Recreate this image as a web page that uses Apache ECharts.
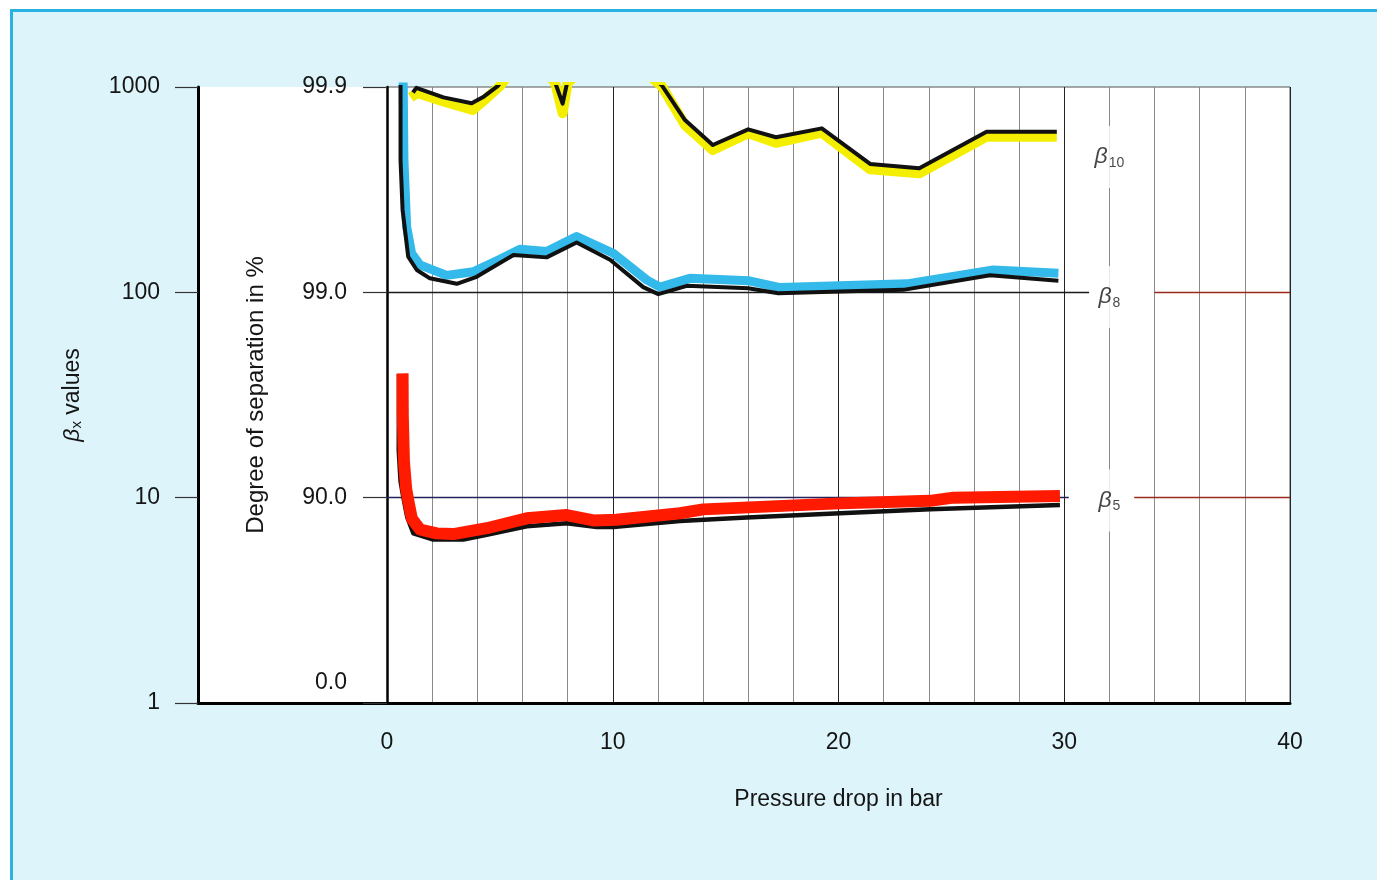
<!DOCTYPE html>
<html>
<head>
<meta charset="utf-8">
<script src="https://cdn.jsdelivr.net/npm/echarts@6/dist/echarts.min.js"></script>
<style>
  html, body { margin: 0; padding: 0; background: #ffffff; }
  #frame { position: absolute; left: 10px; top: 9px; width: 1400px; height: 900px;
           background: #ddf5fa; border-left: 3px solid #2ab2e2; border-top: 3px solid #2ab2e2; }
  #chart { position: absolute; left: 0; top: 0; width: 1377px; height: 880px; }
</style>
</head>
<body>
<div id="frame"></div>
<div id="chart"></div>
<script>
// ---- data (x = pressure drop in bar, y = beta value) ----
const beta10Yellow = [[1.05, 890], [1.35, 935], [2.5, 850], [3.8, 773], [4.4, 880], [5.0, 1010], [6.2, 1500], [7.45, 1050], [7.78, 745], [8.0, 1050], [10, 1600], [12.17, 1010], [13.2, 653], [14.43, 493], [16.0, 595], [17.23, 535], [19.26, 599], [21.4, 397], [23.58, 380], [26.56, 573], [29.67, 573]];
const beta10Black = [[1.15, 940], [1.3, 990], [2.5, 890], [3.75, 833], [4.3, 900], [4.9, 1010], [6.2, 1500], [7.45, 1050], [7.78, 830], [7.98, 1050], [10, 1600], [12.17, 1020], [13.2, 690], [14.43, 522], [16.0, 622], [17.23, 569], [19.26, 629], [21.4, 422], [23.58, 402], [26.56, 606], [29.67, 606]];
const beta8Blue = [[0.7, 1200], [0.72, 1000], [0.75, 440], [0.87, 209], [1.09, 155], [1.46, 136], [2.64, 121], [3.82, 126], [5.0, 145], [5.89, 162], [7.07, 158], [8.4, 187], [10.02, 155], [11.5, 115], [12.09, 106], [13.42, 117], [16.0, 114], [17.41, 105.5], [20.07, 107.6], [23.02, 110], [26.86, 128.5], [29.74, 124]];
const beta8Black = [[0.6, 1200], [0.6, 440], [0.69, 252], [0.94, 149], [1.32, 128.5], [1.9, 117], [3.09, 110], [3.97, 119], [5.6, 152], [7.07, 148], [8.4, 175], [9.88, 144], [11.35, 106], [12.02, 98], [13.28, 107.6], [16.0, 104.6], [17.33, 99], [20.07, 101], [22.87, 102.8], [26.71, 121], [29.74, 114]];
const beta5Red = [[0.69, 40.3], [0.7, 25], [0.75, 15], [0.85, 11], [0.94, 9.7], [1.1, 7.9], [1.46, 7.0], [2.2, 6.7], [2.94, 6.65], [4.42, 7.1], [6.19, 7.93], [7.96, 8.23], [9.14, 7.75], [10.17, 7.8], [12.98, 8.4], [14.01, 8.77], [20.07, 9.38], [24.05, 9.65], [25.09, 10.0], [29.81, 10.2]];
const beta5Black = [[0.53, 40], [0.52, 17], [0.6, 12], [0.72, 10.1], [0.9, 8], [1.17, 6.7], [2.05, 6.25], [3.38, 6.25], [4.42, 6.6], [6.19, 7.25], [7.96, 7.5], [9.29, 7.2], [10.02, 7.2], [12.98, 7.7], [15.93, 8.0], [20.07, 8.39], [24.05, 8.77], [29.81, 9.2]];

// reference lines [xStart, xEnd, y]
const refLinesLeft = [[0, 31.1, 100], [0, 30.2, 10]];
const refLinesRight = [[34.0, 40, 100], [33.1, 40, 10]];
// curve labels [x, y, subscript]
const curveLabels = [[32, 456, '10'], [32, 95, '8'], [32, 9.7, '5']];

const xTicks = [0, 10, 20, 30, 40];
const betaTicks = [1, 10, 100, 1000];

const FONT = '"Liberation Sans", Arial, Helvetica, sans-serif';
const TXT = '#151515';
const chart = echarts.init(document.getElementById('chart'), null, { renderer: 'canvas' });

function lineSeries(name, data, color, width, z) {
  return {
    name: name, type: 'line', data: data, xAxisIndex: 0, yAxisIndex: 0,
    showSymbol: false, symbol: 'none', clip: true, z: z, silent: true,
    lineStyle: { color: color, width: width, join: 'round', cap: 'butt' }
  };
}

function refSeries(name, segs, colors, z) {
  return {
    name: name, type: 'line', data: [], xAxisIndex: 0, yAxisIndex: 0, z: z, silent: true,
    markLine: {
      silent: true, symbol: 'none', animation: false, label: { show: false }, z: z,
      data: segs.map((s, i) => {
        const ls = { color: colors[i], width: 1.4, type: 'solid' };
        return [{ coord: [s[0], s[2]], lineStyle: ls }, { coord: [s[1], s[2]], lineStyle: ls }];
      })
    }
  };
}

const option = {
  backgroundColor: 'transparent',
  animation: false,
  textStyle: { fontFamily: FONT },
  grid: [
    { left: 387, right: 87, top: 87, bottom: 177, show: true, backgroundColor: '#ffffff', borderColor: '#555', borderWidth: 1 },
    { left: 198, width: 189, top: 87, bottom: 177, show: true, backgroundColor: '#ffffff', borderWidth: 0 }
  ],
  xAxis: [
    {
      gridIndex: 0, type: 'value', min: 0, max: 40, interval: 2,
      axisLine: { show: true, lineStyle: { color: '#000', width: 3 } },
      axisTick: { show: false },
      axisLabel: { show: true, margin: 28, fontSize: 23, color: TXT, fontFamily: FONT,
        formatter: v => xTicks.indexOf(v) >= 0 ? String(v) : '' },
      splitLine: { show: true, lineStyle: { color: ['#222', '#8a8a8a', '#8a8a8a', '#8a8a8a', '#8a8a8a'], width: 1 } },
      name: 'Pressure drop in bar', nameLocation: 'middle', nameGap: 85,
      nameTextStyle: { fontSize: 23, color: TXT, fontFamily: FONT }
    },
    {
      gridIndex: 1, type: 'value', min: 0, max: 1,
      axisLine: { show: true, lineStyle: { color: '#000', width: 3 } },
      axisTick: { show: false }, axisLabel: { show: false }, splitLine: { show: false }
    }
  ],
  yAxis: [
    {
      gridIndex: 0, type: 'log', logBase: 10, min: 1, max: 1000,
      axisLine: { show: true, onZero: false, lineStyle: { color: '#000', width: 2.5 } },
      axisTick: { show: true, length: 24, lineStyle: { color: '#333', width: 1.2 } },
      minorTick: { show: false }, splitLine: { show: false },
      axisLabel: { margin: 40, fontSize: 23, color: TXT, fontFamily: FONT,
        formatter: v => {
          const s = ((1 - 1 / v) * 100).toFixed(1);
          return Math.round(v) === 1 ? '{up|' + s + '}' : s;
        },
        rich: { up: { fontSize: 23, color: TXT, fontFamily: FONT, padding: [0, 0, 40, 0] } } },
      name: 'Degree of separation in %', nameLocation: 'middle', nameGap: 119,
      nameTextStyle: { fontSize: 24, color: TXT, fontFamily: FONT }
    },
    {
      gridIndex: 1, type: 'log', logBase: 10, min: 1, max: 1000,
      axisLine: { show: true, onZero: false, lineStyle: { color: '#000', width: 3 } },
      axisTick: { show: true, length: 23, lineStyle: { color: '#333', width: 1.2 } },
      minorTick: { show: false }, splitLine: { show: false },
      axisLabel: { margin: 38, fontSize: 23, color: TXT, fontFamily: FONT,
        formatter: v => betaTicks.indexOf(Math.round(v)) >= 0 ? String(Math.round(v)) : '' },
      name: '{b|β}{s|x} values', nameLocation: 'middle', nameGap: 114,
      nameTextStyle: { fontSize: 23, color: TXT, fontFamily: FONT,
        rich: {
          b: { fontSize: 23, fontStyle: 'italic', fontFamily: FONT, color: TXT },
          s: { fontSize: 15, fontFamily: FONT, color: TXT, verticalAlign: 'bottom', padding: [8, 0, 0, 0] }
        } }
    }
  ],
  series: [
    refSeries('refs left', refLinesLeft, ['#1a1a1a', '#23235e'], 1),
    refSeries('refs right', refLinesRight, ['#9a2a1c', '#9a2a1c'], 7),
    lineSeries('β10 band', beta10Yellow, '#f4ee00', 10, 3),
    lineSeries('β10', beta10Black, '#111111', 4, 4),
    lineSeries('β8 band', beta8Blue, '#33b9ea', 9, 3),
    lineSeries('β8', beta8Black, '#111111', 4, 4),
    lineSeries('β5', beta5Black, '#111111', 4.5, 3),
    lineSeries('β5 band', beta5Red, '#ff1a00', 12, 4),
    {
      name: 'labels', type: 'scatter', xAxisIndex: 0, yAxisIndex: 0, z: 6, silent: true,
      symbolSize: 0,
      data: curveLabels.map(d => ({ value: [d[0], d[1]] })),
      label: {
        show: true, position: 'inside', align: 'center', verticalAlign: 'middle',
        backgroundColor: '#ffffff', padding: [18, 5, 18, 5],
        formatter: p => '{b|β}{s|' + curveLabels[p.dataIndex][2] + '}',
        rich: {
          b: { fontSize: 23, fontStyle: 'italic', fontFamily: FONT, color: TXT },
          s: { fontSize: 14, fontFamily: FONT, color: TXT, verticalAlign: 'bottom', padding: [12, 0, 0, 1] }
        }
      }
    }
  ]
};
chart.setOption(option);
</script>
</body>
</html>
